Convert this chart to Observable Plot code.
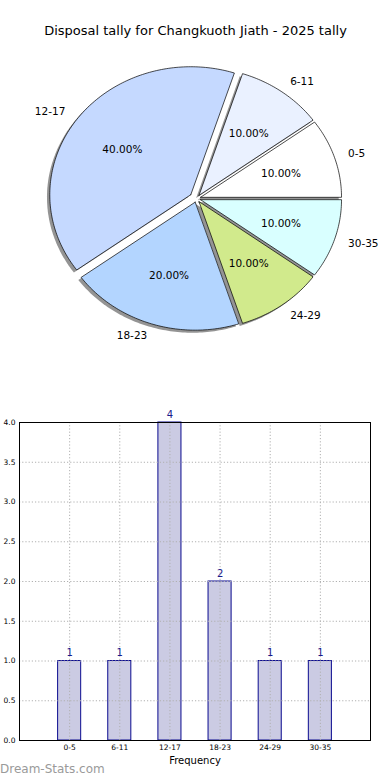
<!DOCTYPE html>
<html>
<head>
<meta charset="utf-8">
<script src="https://cdn.jsdelivr.net/npm/d3@7"></script>
<script src="https://cdn.jsdelivr.net/npm/@observablehq/plot@0.6"></script>
<style>
  html, body { margin: 0; padding: 0; background: #fff; }
  body { width: 390px; height: 780px; position: relative; overflow: hidden; font-family: "DejaVu Sans", sans-serif; }
  #pie, #bar { position: absolute; left: 0; }
  #pie { top: 0; }
  #bar { top: 380px; }
  #wm { position: absolute; left: 0; top: 762px; font: 12px "DejaVu Sans", sans-serif; color: #9a9a9a; line-height: 14px; }
  svg { display: block; font-family: "DejaVu Sans", sans-serif; }
</style>
</head>
<body>
<div id="pie"></div>
<div id="bar"></div>
<div id="wm">Dream-Stats.com</div>
<script>
// ---- data ----
const title = "Disposal tally for Changkuoth Jiath - 2025 tally";
const ageGroups = ["0-5", "6-11", "12-17", "18-23", "24-29", "30-35"];
const counts = [1, 1, 4, 2, 1, 1];
const explode = [0.03, 0.03, 0.05, 0.03, 0.03, 0.03];
const pieColors = ["#ffffff", "#eaf1ff", "#c5d9ff", "#b3d5ff", "#d1ea8c", "#d9ffff"];
const yTicks = [0, 0.5, 1, 1.5, 2, 2.5, 3, 3.5, 4];
const xLabel = "Frequency";

// ---- pie geometry (unit circle, matplotlib-style: start at 0°, counter-clockwise) ----
const cx = 196, cy = 198, rx = 141, ry = 128, pieW = 390, pieH = 380;
const total = d3.sum(counts);
const arcs = d3.pie().sort(null).startAngle(0).endAngle(2 * Math.PI).value(d => d)(counts);
const slices = arcs.map((a, i) => {
  const a0 = a.startAngle, a1 = a.endAngle, mid = (a0 + a1) / 2;
  const ox = explode[i] * Math.cos(mid), oy = explode[i] * Math.sin(mid);
  const n = Math.max(8, Math.ceil((a1 - a0) / (Math.PI / 180)));
  const pts = [{x: ox, y: oy}];
  for (let k = 0; k <= n; k++) {
    const t = a0 + (a1 - a0) * k / n;
    pts.push({x: ox + Math.cos(t), y: oy + Math.sin(t)});
  }
  pts.push({x: ox, y: oy});
  return {
    i, pts, mid, ox, oy,
    label: ageGroups[i],
    pct: (100 * counts[i] / total).toFixed(2) + "%",
    lx: ox + 1.1 * Math.cos(mid), ly: oy + 1.1 * Math.sin(mid),
    px: ox + 0.6 * Math.cos(mid), py: oy + 0.6 * Math.sin(mid)
  };
});

const pieMarks = [];
// shadows (beneath all wedges)
slices.forEach(s => {
  pieMarks.push(Plot.line(s.pts, {x: d => d.x - 0.02, y: d => d.y - 0.02, fill: "#4d4d4d", fillOpacity: 0.6, stroke: "none", curve: "linear"}));
});
slices.forEach(s => {
  pieMarks.push(Plot.line(s.pts, {x: "x", y: "y", fill: pieColors[s.i], stroke: "#000", strokeWidth: 0.7, curve: "linear"}));
});
pieMarks.push(Plot.text(slices, {x: "px", y: "py", text: "pct", fontSize: 10.5, fill: "#000", textAnchor: "middle"}));
pieMarks.push(Plot.text(slices.filter(d => Math.cos(d.mid) > 0), {x: "lx", y: "ly", text: "label", fontSize: 10.5, fill: "#000", textAnchor: "start"}));
pieMarks.push(Plot.text(slices.filter(d => Math.cos(d.mid) <= 0), {x: "lx", y: "ly", text: "label", fontSize: 10.5, fill: "#000", textAnchor: "end"}));
pieMarks.push(Plot.text([title], {frameAnchor: "top", dy: 30, lineAnchor: "middle", fontSize: 13, fill: "#000"}));

const pie = Plot.plot({
  width: pieW, height: pieH,
  marginTop: 0, marginBottom: 0, marginLeft: 0, marginRight: 0,
  x: {domain: [-cx / rx, (pieW - cx) / rx], range: [0, pieW], axis: null},
  y: {domain: [-(pieH - cy) / ry, cy / ry], range: [pieH, 0], axis: null},
  marks: pieMarks
});
document.getElementById("pie").append(pie);

// ---- bar chart ----
const barData = ageGroups.map((g, i) => ({i, g, n: counts[i]}));
const idx = ageGroups.map((_, i) => i);
const bar = Plot.plot({
  width: 390, height: 400,
  marginTop: 42, marginBottom: 40, marginLeft: 19, marginRight: 20,
  x: {type: "linear", domain: [-1, 6]},
  y: {domain: [0, 4]},
  marks: [
    Plot.rectY(barData, {x1: d => d.i - 0.23, x2: d => d.i + 0.23, y1: 0, y2: "n", fill: "#cbcbe3", stroke: "#0b0b8f", strokeWidth: 1}),
    Plot.ruleY(yTicks, {stroke: "#b0b0b0", strokeDasharray: "1.2,2", strokeWidth: 1}),
    Plot.ruleX(idx, {stroke: "#b0b0b0", strokeDasharray: "1.2,2", strokeWidth: 1}),
    Plot.frame({stroke: "#000", strokeWidth: 1}),
    Plot.text(barData, {x: "i", y: "n", text: d => String(d.n), dy: -5, lineAnchor: "bottom", fontSize: 10, fill: "#1a1a8c"}),
    Plot.axisY({ticks: yTicks, tickFormat: d3.format(".1f"), tickSize: 0, tickPadding: 4, fontSize: 7.5, label: null}),
    Plot.axisX({ticks: idx, tickFormat: d => ageGroups[d], tickSize: 0, tickPadding: 4, fontSize: 7.5, label: null}),
    Plot.text([xLabel], {frameAnchor: "bottom", dy: 20, lineAnchor: "middle", fontSize: 10, fill: "#000"})
  ]
});
document.getElementById("bar").append(bar);
</script>
</body>
</html>
